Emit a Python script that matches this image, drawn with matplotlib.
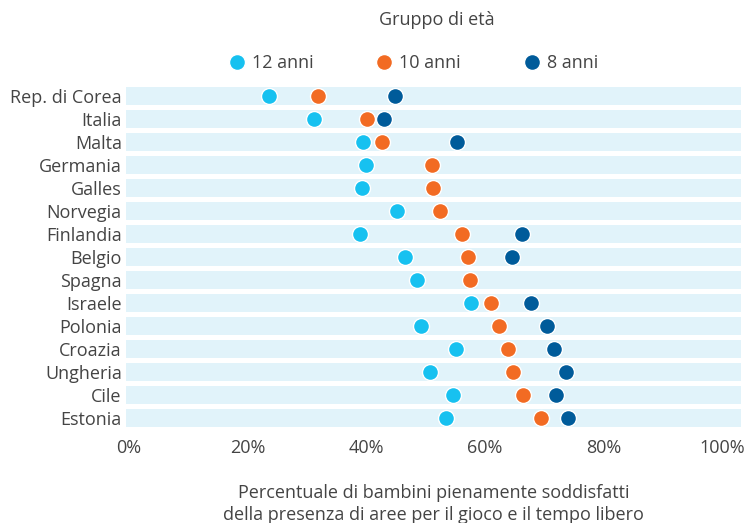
import matplotlib.pyplot as plt
from matplotlib.ticker import FuncFormatter

plt.rcParams['font.family'] = ['Open Sans', 'DejaVu Sans']

# Data (percent of children fully satisfied)
countries = ["Rep. di Corea", "Italia", "Malta", "Germania", "Galles", "Norvegia",
             "Finlandia", "Belgio", "Spagna", "Israele", "Polonia", "Croazia",
             "Ungheria", "Cile", "Estonia"]
age12 = [23.7, 31.3, 39.4, 40.0, 39.3, 45.2, 38.9, 46.5, 48.5, 57.7, 49.3, 55.1, 50.7, 54.7, 53.5]
age10 = [31.9, 40.2, 42.7, 51.1, 51.3, 52.4, 56.1, 57.2, 57.5, 61.1, 62.4, 63.9, 64.8, 66.4, 69.5]
age8 = [44.9, 43.0, 55.3, None, None, None, 66.3, 64.5, None, 67.7, 70.4, 71.7, 73.6, 72.0, 74.0]

series_labels = ["12 anni", "10 anni", "8 anni"]
colors = ["#17c1f0", "#f26b23", "#005b9a"]
band_color = "#e1f3fa"
text_color = "#444444"
fs = 13

fig = plt.figure(figsize=(7.44, 5.23), dpi=100)
ax = fig.add_axes([126 / 744, 1 - 429.5 / 523, 615 / 744, 345 / 523])

ypos = list(range(len(countries)))
for y in ypos:
    ax.axhspan(y - 0.39, y + 0.39, color=band_color, lw=0, zorder=0)

for vals, col, lab in zip([age12, age10, age8], colors, series_labels):
    ys = [y for y, v in zip(ypos, vals) if v is not None]
    xs = [v for v in vals if v is not None]
    ax.plot(xs, ys, 'o', ms=11.5, color=col, mec='white', mew=1, label=lab,
            zorder=3, clip_on=False)

ax.set_xlim(-0.42, 103.1)
ax.set_ylim(len(countries) - 0.5, -0.5)
ax.set_yticks(ypos)
ax.set_yticklabels(countries)
ax.set_xticks([0, 20, 40, 60, 80, 100])
ax.xaxis.set_major_formatter(FuncFormatter(lambda v, p: f"{v:.0f}%"))
ax.tick_params(axis='both', length=0, labelsize=fs, labelcolor=text_color)
ax.tick_params(axis='y', pad=3)
ax.tick_params(axis='x', pad=7)
for s in ax.spines.values():
    s.set_visible(False)

ax.set_xlabel("Percentuale di bambini pienamente soddisfatti\n"
              "della presenza di aree per il gioco e il tempo libero",
              fontsize=fs, color=text_color, labelpad=19, linespacing=1.28)

fig.text(437 / 744, 1 - 20 / 523, "Gruppo di età", ha='center', va='center',
         fontsize=fs, color=text_color)
fig.legend(loc='center', bbox_to_anchor=(414 / 744, 1 - 63 / 523), ncol=3,
           frameon=False, fontsize=fs, handlelength=0.8, handletextpad=0.43,
           columnspacing=3.5, labelcolor=text_color, borderpad=0)

fig.savefig("out.png", dpi=100)
